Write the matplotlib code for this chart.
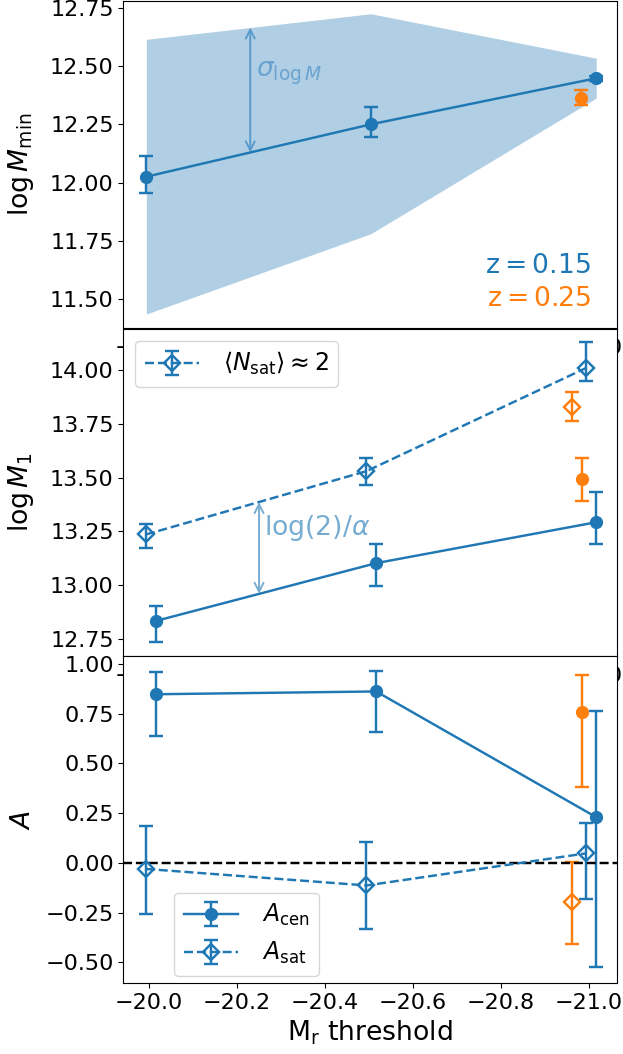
import matplotlib
matplotlib.use("Agg")
import matplotlib.pyplot as plt
import numpy as np

plt.rcParams['font.size'] = 16
plt.rcParams['font.family'] = ['DejaVu Sans']

# ---------------- data ----------------
# top panel: log M_min
x_mmin = [-19.995, -20.505, -21.017]
mmin = [12.025, 12.250, 12.448]
mmin_lo = [0.069, 0.054, 0.010]
mmin_hi = [0.088, 0.074, 0.010]
sigma_up = [12.615, 12.725, 12.534]
sigma_dn = [11.435, 11.780, 12.363]
x_mmin_z25 = [-20.983]
mmin_z25 = [12.363]
mmin_z25_lo = [0.029]
mmin_z25_hi = [0.036]

# middle panel: log M_1 and <N_sat>=2 mass
x_cen = [-20.017, -20.517, -21.017]
x_sat = [-19.994, -20.495, -20.993]
m1 = [12.835, 13.103, 13.293]
m1_lo = [0.096, 0.106, 0.101]
m1_hi = [0.070, 0.087, 0.139]
m2 = [13.236, 13.530, 14.008]
m2_lo = [0.063, 0.065, 0.061]
m2_hi = [0.049, 0.059, 0.120]
x_cen_z25 = [-20.984]
x_sat_z25 = [-20.961]
m1_z25 = [13.494]
m1_z25_lo = [0.101]
m1_z25_hi = [0.096]
m2_z25 = [13.830]
m2_z25_lo = [0.067]
m2_z25_hi = [0.068]

# bottom panel: assembly bias A
a_cen = [0.847, 0.861, 0.229]
a_cen_lo = [0.210, 0.204, 0.753]
a_cen_hi = [0.114, 0.102, 0.532]
a_sat = [-0.031, -0.114, 0.047]
a_sat_lo = [0.225, 0.221, 0.228]
a_sat_hi = [0.215, 0.217, 0.153]
a_cen_z25 = [0.759]
a_cen_z25_lo = [0.380]
a_cen_z25_hi = [0.186]
a_sat_z25 = [-0.199]
a_sat_z25_lo = [0.209]
a_sat_z25_hi = [0.202]

xticks = [-20.0, -20.2, -20.4, -20.6, -20.8, -21.0]

# ---------------- figure ----------------
fig = plt.figure(figsize=(6.23, 10.54), dpi=100)
L, W = 0.1982, 0.7921
ax1 = fig.add_axes([L, 0.6888, W, 0.3103])
ax2 = fig.add_axes([L, 0.3776, W, 0.3103])
ax3 = fig.add_axes([L, 0.0674, W, 0.3098])

XLIM = (-19.943, -21.064)
LW = 1.75
ek = dict(capsize=5, capthick=LW, elinewidth=LW, lw=LW, ms=8.5)
arrow_col = '#77acd2'
leg_kw = dict(fontsize=17, handlelength=2.3, handletextpad=1.0)

# top
ax1.fill_between(x_mmin, sigma_dn, sigma_up, color='C0', alpha=0.35, lw=0)
ax1.errorbar(x_mmin, mmin, yerr=[mmin_lo, mmin_hi], fmt='o-', color='C0', **ek)
ax1.errorbar(x_mmin_z25, mmin_z25, yerr=[mmin_z25_lo, mmin_z25_hi], fmt='o',
             color='C1', **ek)
xa = -20.231
ya_lo = np.interp(-xa, [-v for v in x_mmin], mmin)
ya_hi = np.interp(-xa, [-v for v in x_mmin], sigma_up)
ax1.annotate('', xy=(xa, ya_hi), xytext=(xa, ya_lo),
             arrowprops=dict(arrowstyle='<->', color='#5a9bcc', lw=1.4,
                             shrinkA=0, shrinkB=0))
ax1.text(-20.245, 12.467, r'$\sigma_{\log M}$', color='#6aa3cf',
         fontsize=19.2, va='center', ha='left')
ax1.text(0.947, 0.167, r'$\mathrm{z = 0.15}$', color='C0', fontsize=19.2,
         transform=ax1.transAxes, ha='right', va='baseline')
ax1.text(0.947, 0.067, r'$\mathrm{z = 0.25}$', color='C1', fontsize=19.2,
         transform=ax1.transAxes, ha='right', va='baseline')
ax1.set_ylim(11.375, 12.78)
ax1.set_yticks([11.5, 11.75, 12.0, 12.25, 12.5, 12.75])
ax1.set_ylabel(r'$\log M_{\rm min}$', fontsize=19.2)

# middle
ax2.errorbar(x_cen, m1, yerr=[m1_lo, m1_hi], fmt='o-', color='C0', **ek)
h2 = ax2.errorbar(x_sat, m2, yerr=[m2_lo, m2_hi], fmt='D--', color='C0',
                  mfc='none', mew=LW, **ek)
ax2.errorbar(x_cen_z25, m1_z25, yerr=[m1_z25_lo, m1_z25_hi], fmt='o',
             color='C1', **ek)
ax2.errorbar(x_sat_z25, m2_z25, yerr=[m2_z25_lo, m2_z25_hi], fmt='D',
             color='C1', mfc='none', mew=LW, **ek)
xb = -20.251
yb_hi = np.interp(-xb, [-v for v in x_sat], m2)
yb_lo = np.interp(-xb, [-v for v in x_cen], m1)
ax2.annotate('', xy=(xb, yb_hi), xytext=(xb, yb_lo),
             arrowprops=dict(arrowstyle='<->', color=arrow_col, lw=1.4,
                             shrinkA=0, shrinkB=0))
ax2.text(-20.262, 13.265, r'$\log(2)/\alpha$', color=arrow_col,
         fontsize=19.2, va='center', ha='left')
ax2.legend([h2], [r'$\langle N_{\rm sat}\rangle \approx 2$'], loc='upper left',
           **leg_kw)
ax2.set_ylim(12.672, 14.19)
ax2.set_yticks([12.75, 13.0, 13.25, 13.5, 13.75, 14.0])
ax2.set_ylabel(r'$\log M_1$', fontsize=19.2)

# bottom
h3a = ax3.errorbar(x_cen, a_cen, yerr=[a_cen_lo, a_cen_hi], fmt='o-',
                   color='C0', **ek)
h3b = ax3.errorbar(x_sat, a_sat, yerr=[a_sat_lo, a_sat_hi], fmt='D--',
                   color='C0', mfc='none', mew=LW, **ek)
ax3.errorbar(x_cen_z25, a_cen_z25, yerr=[a_cen_z25_lo, a_cen_z25_hi], fmt='o',
             color='C1', **ek)
ax3.errorbar(x_sat_z25, a_sat_z25, yerr=[a_sat_z25_lo, a_sat_z25_hi], fmt='D',
             color='C1', mfc='none', mew=LW, **ek)
ax3.axhline(0, color='k', ls='--', lw=LW)
ax3.legend([h3a, h3b], [r'$A_{\rm cen}$', r'$A_{\rm sat}$'], loc='lower left',
           bbox_to_anchor=(0.103, 0.022), borderaxespad=0, **leg_kw)
ax3.set_ylim(-0.604, 1.037)
ax3.set_yticks([-0.5, -0.25, 0.0, 0.25, 0.5, 0.75, 1.0])
ax3.set_ylabel(r'$A$', fontsize=19.2)
ax3.set_xlabel(r'$\rm M_r$ threshold', fontsize=19.2)

for ax in (ax1, ax2, ax3):
    ax.set_xlim(*XLIM)
    ax.set_xticks(xticks)
    ax.yaxis.set_label_coords(-0.178, 0.5)

fig.savefig('out.png', dpi=100)
